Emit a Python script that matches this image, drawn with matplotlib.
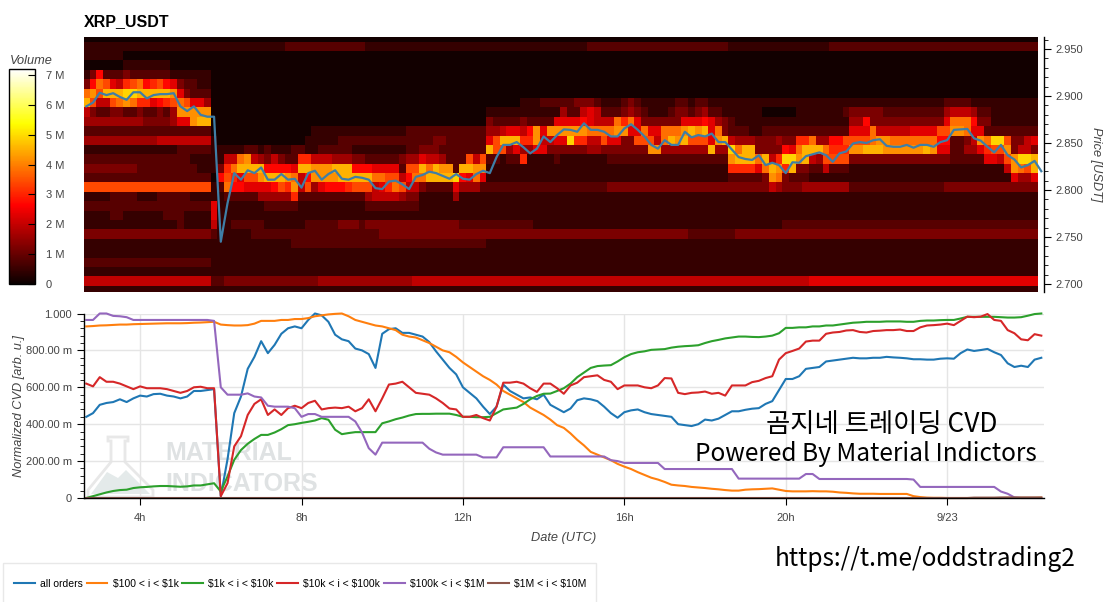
import numpy as np
from matplotlib import pyplot as plt
from matplotlib import ticker
from matplotlib.patches import Polygon, Rectangle

plt.rcParams.update({
    "font.family": ["Liberation Sans", "DejaVu Sans"],
    "xtick.labelcolor": "#444444",
    "ytick.labelcolor": "#444444",
    "axes.linewidth": 1.0,
})

W, H = 1108, 602

# one line per hour, samples every 10 min starting 2:40
price = [
    2.889, 2.893,
    2.9035, 2.901, 2.903, 2.899, 2.896, 2.904,
    2.904, 2.8975, 2.901, 2.902, 2.902, 2.903,
    2.889, 2.884, 2.889, 2.880, 2.878, 2.878,
    2.745, 2.786, 2.818, 2.811, 2.821, 2.818,
    2.824, 2.811, 2.811, 2.817, 2.811, 2.812,
    2.8025, 2.818, 2.8205, 2.811, 2.817, 2.821,
    2.812, 2.811, 2.814, 2.813, 2.811, 2.802,
    2.801, 2.809, 2.81, 2.806, 2.801, 2.814,
    2.816, 2.8195, 2.818, 2.815, 2.812, 2.817,
    2.812, 2.811, 2.817, 2.8205, 2.818, 2.835,
    2.848, 2.848, 2.851, 2.8455, 2.839, 2.844,
    2.857, 2.851, 2.8585, 2.8645, 2.864, 2.862,
    2.871, 2.864, 2.864, 2.862, 2.857, 2.857,
    2.8655, 2.87, 2.864, 2.857, 2.848, 2.844,
    2.853, 2.848, 2.848, 2.862, 2.856, 2.8585,
    2.857, 2.86, 2.851, 2.851, 2.843, 2.835,
    2.833, 2.832, 2.837, 2.8265, 2.829, 2.8265,
    2.818, 2.8295, 2.829, 2.836, 2.838, 2.84,
    2.837, 2.83, 2.839, 2.841, 2.8495, 2.851,
    2.85, 2.853, 2.854, 2.847, 2.846, 2.846,
    2.848, 2.845, 2.848, 2.848, 2.846, 2.851,
    2.853, 2.864, 2.8645, 2.865, 2.855, 2.8525,
    2.846, 2.84, 2.848, 2.837, 2.8325, 2.824,
    2.8265, 2.831, 2.82,
]

all_orders = [
    .44, .46,
    .505, .515, .52, .535, .52, .54,
    .555, .55, .563, .565, .555, .55,
    .54, .55, .58, .58, .585, .59,
    .01, .21, .46, .55, .70, .765,
    .85, .785, .83, .89, .92, .93,
    .92, .965, 1.0, .99, .955, .885,
    .86, .85, .81, .80, .78, .705,
    .89, .915, .92, .895, .895, .885,
    .875, .845, .795, .75, .705, .67,
    .60, .57, .54, .495, .455, .495,
    .615, .58, .56, .54, .545, .535,
    .56, .505, .485, .465, .485, .53,
    .54, .535, .525, .495, .46, .435,
    .465, .475, .48, .465, .455, .45,
    .445, .44, .40, .395, .39, .40,
    .425, .42, .43, .45, .47, .47,
    .478, .484, .487, .51, .525, .585,
    .645, .645, .66, .70, .705, .71,
    .74, .745, .75, .755, .76, .757,
    .757, .76, .76, .765, .762, .76,
    .757, .752, .752, .75, .75, .755,
    .757, .755, .785, .805, .797, .802,
    .808, .79, .775, .73, .71, .717,
    .71, .75, .76,
]

tier_100_1k = [
    .93, .932,
    .935, .936, .938, .94, .94, .942,
    .943, .944, .945, .946, .947, .947,
    .947, .948, .95, .951, .953, .955,
    .94, .937, .935, .935, .937, .945,
    .96, .96, .96, .965, .965, .97,
    .97, .975, .985, .99, .995, .998,
    1.0, .985, .965, .955, .945, .935,
    .93, .92, .91, .885, .875, .87,
    .855, .84, .82, .80, .79, .765,
    .735, .71, .685, .66, .64, .615,
    .58, .56, .54, .52, .49, .47,
    .45, .425, .395, .38, .35, .315,
    .285, .25, .235, .22, .205, .185,
    .17, .157, .14, .125, .11, .10,
    .087, .072, .068, .065, .06, .057,
    .054, .05, .047, .043, .04, .04,
    .045, .047, .048, .05, .052, .045,
    .038, .036, .036, .036, .037, .036,
    .036, .034, .03, .028, .025, .023,
    .023, .023, .022, .022, .022, .022,
    .022, .01, .005, .002, .001, .001,
    .0, .0, .0, .0, .0, .0,
    .0, .0, .0, .001, .001, .001,
    .001, .001, .002,
]

tier_1k_10k = [
    .0, .01,
    .02, .03, .038, .043, .045, .054,
    .058, .06, .063, .065, .065, .063,
    .061, .063, .068, .068, .074, .08,
    .035, .117, .207, .26, .294, .32,
    .342, .342, .355, .373, .395, .40,
    .407, .413, .42, .433, .424, .37,
    .346, .352, .357, .357, .357, .357,
    .405, .415, .427, .436, .447, .455,
    .456, .456, .457, .457, .457, .45,
    .44, .44, .438, .438, .44, .46,
    .48, .485, .49, .51, .535, .553,
    .565, .566, .58, .595, .62, .655,
    .68, .705, .715, .718, .72, .74,
    .763, .78, .79, .795, .803, .805,
    .807, .815, .82, .823, .825, .828,
    .84, .85, .857, .865, .87, .875,
    .875, .873, .872, .875, .88, .893,
    .922, .922, .925, .925, .93, .93,
    .935, .935, .94, .945, .95, .952,
    .955, .955, .955, .957, .957, .957,
    .955, .955, .96, .962, .962, .964,
    .965, .965, .973, .982, .982, .982,
    .982, .982, .98, .978, .978, .98,
    .988, .997, 1.0,
]

tier_10k_100k = [
    .62, .605,
    .655, .63, .63, .62, .605, .59,
    .605, .595, .595, .595, .59, .58,
    .57, .58, .60, .603, .595, .595,
    .01, .08, .28, .335, .45, .51,
    .535, .45, .48, .45, .487, .50,
    .487, .515, .527, .48, .487, .49,
    .487, .495, .47, .487, .535, .47,
    .54, .615, .62, .63, .60, .57,
    .565, .56, .54, .515, .485, .48,
    .44, .44, .45, .433, .42, .495,
    .625, .625, .63, .62, .595, .575,
    .62, .62, .595, .565, .61, .625,
    .655, .66, .665, .64, .63, .59,
    .61, .61, .61, .60, .595, .61,
    .65, .648, .57, .563, .57, .572,
    .577, .565, .57, .555, .61, .61,
    .61, .628, .635, .65, .66, .75,
    .785, .797, .81, .848, .853, .853,
    .89, .897, .90, .908, .91, .90,
    .897, .905, .907, .91, .91, .913,
    .905, .905, .925, .935, .937, .94,
    .945, .937, .96, .983, .98, .983,
    .997, .965, .96, .91, .893, .86,
    .855, .888, .88,
]

tier_100k_1m = [
    .965, .965,
    1.0, 1.0, .987, .985, .98, .965,
    .965, .965, .965, .965, .965, .965,
    .965, .965, .965, .965, .965, .96,
    .60, .56, .56, .56, .567, .55,
    .545, .50, .495, .495, .495, .487,
    .44, .455, .455, .44, .44, .44,
    .44, .44, .415, .355, .27, .235,
    .30, .30, .30, .30, .30, .30,
    .30, .267, .247, .235, .235, .235,
    .235, .235, .235, .22, .22, .22,
    .275, .275, .275, .275, .275, .275,
    .275, .225, .225, .225, .225, .225,
    .225, .225, .225, .225, .205, .20,
    .19, .19, .19, .19, .19, .19,
    .157, .157, .157, .157, .157, .157,
    .157, .157, .157, .157, .157, .105,
    .105, .105, .105, .105, .105, .105,
    .105, .105, .105, .13, .13, .103,
    .103, .103, .103, .103, .103, .103,
    .103, .103, .103, .103, .103, .103,
    .103, .10, .06, .06, .06, .06,
    .06, .06, .06, .06, .06, .06,
    .06, .06, .035, .023, .003, .0,
    .0, .0, .0,
]

tier_1m_10m = [
    .0, .0,
    .0, .0, .0, .0, .0, .0,
    .0, .0, .0, .0, .0, .0,
    .0, .0, .0, .0, .0, .0,
    .0, .0, .0, .0, .0, .0,
    .0, .0, .0, .0, .0, .0,
    .0, .0, .0, .0, .0, .0,
    .0, .0, .0, .0, .0, .0,
    .0, .0, .0, .0, .0, .0,
    .0, .0, .0, .0, .0, .0,
    .0, .0, .0, .0, .0, .0,
    .0, .0, .0, .0, .0, .0,
    .0, .0, .0, .0, .0, .0,
    .0, .0, .0, .0, .0, .0,
    .0, .0, .0, .0, .0, .0,
    .0, .0, .0, .0, .0, .0,
    .0, .0, .0, .0, .0, .0,
    .0, .0, .0, .0, .0, .0,
    .0, .0, .0, .0, .0, .0,
    .0, .0, .0, .0, .0, .0,
    .0, .0, .0, .0, .0, .0,
    .0, .0, .0, .0, .0, .0,
    .0, .0, .0, .0, .002, .002,
    .002, .002, .003, .003, .003, .003,
    .003, .003, .003,
]

series_labels = ["all orders", r"\$100 < i < \$1k", r"\$1k < i < \$10k",
                 r"\$10k < i < \$100k", r"\$100k < i < \$1M", r"\$1M < i < \$10M"]
series_values = [all_orders, tier_100_1k, tier_1k_10k, tier_10k_100k, tier_100k_1m, tier_1m_10m]
series_colors = ["#1f77b4", "#ff7f0e", "#2ca02c", "#d62728", "#9467bd", "#8c564b"]

# heatmap: one hex digit per 10 min cell, top price bin first
# groups of 6 cells, a short row repeats its last digit
volume_rows = [
    "000000",
    "111111 111111 111111 111111 111111 222222 222222 111111 111111 111111 111111 111111 111222 222222 222222 222222 111111 111111 111222 222222 222222 222222 222222 2222",
    "111111 000000",
    "000000 111111 100000",
    "137222 322222 211111 100000",
    "37a965 89a789 763221 100000",
    "ab9ccc ddcccc cb6322 200000",
    "c9559a ba8867 89a966 400000 000000 000000 000000 000000 000000 000000 000001 112222 233321 112321 111122 122111 111111 111111 111111 111111 111111 112222 111111 1111",
    "532233 223223 24bbbb b00000 000000 000000 000000 000000 000000 000000 111111 111114 225652 223432 111233 234221 111110 000011 111112 333332 222222 224555 422111 1111",
    "444444 444333 3466bc c00000 000000 000000 000000 000000 000000 000000 322223 222266 667655 5a8a63 333336 667643 211111 111111 111111 447333 333333 336aaa 733111 1111",
    "222222 222222 222222 200000 000000 000011 111111 111111 222222 222222 445665 7b6bbb bbbaaa abb66a 66aaab cbc6a3 222112 222222 222222 666a55 555666 699bba 662222 2222",
    "444444 444445 555555 510000 000000 000111 112222 222222 222233 222222 69ccc8 8b5566 d88559 663399 95acbc 9996bc 544433 343388 a44779 999abb aaaaaa a77223 5badd9 3356",
    "111111 111111 112222 211111 221211 122112 222211 111111 223332 222222 c99464 466333 333443 333333 bb4444 444c44 dacc33 3376ac cca888 bbcccb bbbbbc b66224 46899b 3553",
    "222222 222222 222211 11155a b54353 228855 544433 222223 446554 222959 221228 111121 111111 222222 222222 222222 bcccac 58ddbc 549999 333333 333333 333222 226659 bddc",
    "333333 332222 222221 1138ac ccc777 76ccbb bccc77 766662 99cacb b2ccbb 111111 111111 111111 111111 111111 111111 88886a cb8c33 225222 111111 111111 111111 111115 ba9c",
    "222222 222222 222222 207986 99bccc ba57bb bbcccc caa995 7aaccc cd76a6 111111 111111 111111 111111 111111 111111 222223 ba3222 111111 111111 111111 111111 111111 6446",
    "999999 999999 999999 912a77 666679 8b5946 777899 9568a9 553222 264442 222222 222222 222222 333333 333333 333333 333333 543334 444444 222222 222222 223333 333333 3333",
    "111122 221112 222211 111222 224444 482222 222222 455554 331111 141111 111111",
    "222222 222222 222222 261111 111222 221111 111111 222222 221111 111111 111111",
    "111122 111111 222111 161111 111111",
    "111111 111111 112111 151122 222111 111222 223332 333333 333333 332222 222222 211111 111111 111111 111111 111111 111111 112222 222222",
    "333333 333333 333333 321111 122222 222222 222222 223333 333333 333333 333333 333333 333333 333333 333333 222222 233333",
    "111111 111111 111111 111111 111111 122222 222222 222222 222222 222222 111111",
    "111111",
    "222222 222222 222222 211111",
    "111111",
    "555555 555555 555555 522333 333333 333334 444444 444444 455555 555555 555555 555555 555555 555555 555555 555555 555555 555555 666666",
    "111111",
]
volume_step = 0.37e6
volume_floor = 0.1e6

n_cols = 142
cells = []
for row in volume_rows:
    digits = row.replace(" ", "")
    digits = digits.ljust(n_cols, digits[-1])[:n_cols]
    cells.append([int(d, 16) * volume_step + volume_floor for d in digits])
volume = np.array(cells)[::-1]

time_edges = 2.58 + np.arange(n_cols + 1) / 6
price_edges = 2.688 + np.arange(len(volume_rows) + 1) * 0.01

hours = (2 + 40 / 60) + np.arange(len(price)) / 6

xlim = (2.61, 26.4)
hour_ticks = [4, 8, 12, 16, 20, 24]
hour_labels = ["4h", "8h", "12h", "16h", "20h", "9/23"]


def rect(x0, y0, x1, y1):
    return [x0 / W, 1 - y1 / H, (x1 - x0) / W, (y1 - y0) / H]


fig = plt.figure(figsize=(W / 100, H / 100), dpi=100)

# watermark and legend box sit under everything
bg = fig.add_axes([0, 0, 1, 1], zorder=-1)
bg.set_xlim(0, W)
bg.set_ylim(H, 0)
bg.axis("off")
flask = [(108, 437), (128, 437), (128, 441), (125, 441), (125, 462), (153, 490), (153, 497),
         (88, 497), (88, 490), (111, 462), (111, 441), (108, 441)]
bg.add_patch(Polygon(flask, closed=True, facecolor="white", edgecolor="#e8e8e8", linewidth=2))
bg.add_patch(Polygon([(91, 494), (107, 472), (118, 478), (126, 470), (150, 494)],
                     closed=True, facecolor="#e4eaea", edgecolor="none"))
bg.text(165, 453, "MATERIAL", fontsize=18, fontweight="bold", color="#dfe2e3", va="center", ha="left")
bg.text(165, 484, "INDICATORS", fontsize=18, fontweight="bold", color="#dfe2e3", va="center", ha="left")
bg.add_patch(Rectangle((3, 563), 593, 45, facecolor="white", edgecolor="#e8e8e8", linewidth=1))

# heatmap panel
ax1 = fig.add_axes(rect(84, 37, 1044, 292))
mesh = ax1.pcolormesh(time_edges, price_edges, volume, cmap="hot", vmin=0, vmax=7.2e6)
ax1.plot(hours, price, color="#3f7ea6", linewidth=1.6, clip_on=False)
ax1.set_xlim(*xlim)
ax1.set_ylim(2.6915, 2.9628)
ax1.xaxis.set_visible(False)
ax1.yaxis.tick_right()
ax1.yaxis.set_label_position("right")
ax1.yaxis.set_major_locator(ticker.MultipleLocator(0.05))
ax1.yaxis.set_minor_locator(ticker.MultipleLocator(0.01))
ax1.yaxis.set_major_formatter(ticker.FormatStrFormatter("%.3f"))
ax1.tick_params(axis="y", which="major", length=5, labelsize=8, pad=3)
ax1.tick_params(axis="y", which="minor", length=3)
for side in ["left", "top", "bottom"]:
    ax1.spines[side].set_visible(False)
ax1.set_ylabel("Price [USDT]", style="italic", fontsize=9.2, color="#444444", rotation=-90, labelpad=14)
fig.text(84 / W, 1 - 22 / H, "XRP_USDT", fontsize=11.5, fontweight="bold", va="center", ha="left")

# volume colour bar
cax = fig.add_axes(rect(9, 69, 35, 284))
cbar = fig.colorbar(mesh, cax=cax)
cbar.set_ticks(np.arange(8) * 1e6)
cbar.set_ticklabels(["0", "1 M", "2 M", "3 M", "4 M", "5 M", "6 M", "7 M"])
cax.tick_params(direction="in", length=5, labelsize=8, pad=8)
fig.text(10 / W, 1 - 61 / H, "Volume", style="italic", fontsize=9.2, color="#444444", va="center", ha="left")

# CVD panel
ax2 = fig.add_axes(rect(84, 313.5, 1044, 498))
ax2.patch.set_alpha(0)
lines = []
for vals, label, colour in zip(series_values, series_labels, series_colors):
    lines.append(ax2.plot(hours, vals, color=colour, linewidth=1.5, label=label, clip_on=False)[0])
ax2.set_xlim(*xlim)
ax2.set_ylim(0, 1)
ax2.set_xticks(hour_ticks)
ax2.set_xticklabels(hour_labels)
ax2.set_yticks([0, .2, .4, .6, .8, 1.0])
ax2.set_yticklabels(["0", "200.00 m", "400.00 m", "600.00 m", "800.00 m", "1.000"])
ax2.yaxis.set_minor_locator(ticker.MultipleLocator(0.04))
ax2.tick_params(axis="both", which="major", length=5, labelsize=8)
ax2.tick_params(axis="y", which="minor", length=3)
ax2.tick_params(axis="x", pad=6)
ax2.grid(color="#e5e5e5", linewidth=1)
ax2.set_axisbelow(True)
for side in ["top", "right"]:
    ax2.spines[side].set_visible(False)
ax2.set_xlabel("Date (UTC)", style="italic", fontsize=9.2, color="#444444", labelpad=6)
ax2.set_ylabel("Normalized CVD [arb. u.]", style="italic", fontsize=9.2, color="#444444", labelpad=1)

fig.legend(handles=lines, loc="center left", bbox_to_anchor=(14 / W, 1 - 584 / H), bbox_transform=fig.transFigure,
           ncol=6, fontsize=7.5, frameon=False, handlelength=2.0, handletextpad=0.5, columnspacing=0.35,
           borderaxespad=0, borderpad=0)

# pasted captions
cjk = ["Noto Sans CJK KR", "DejaVu Sans"]
fig.text(882 / W, 1 - 425 / H, "곰지네 트레이딩 CVD", family=cjk, fontsize=19, color="black", ha="center", va="center")
fig.text(866 / W, 1 - 454 / H, "Powered By Material Indictors", family=cjk, fontsize=17.6, color="black", ha="center", va="center")
fig.text(925 / W, 1 - 559 / H, "https://t.me/oddstrading2", family=cjk, fontsize=17.6, color="black", ha="center", va="center")

fig.savefig("out.png", dpi=100)
